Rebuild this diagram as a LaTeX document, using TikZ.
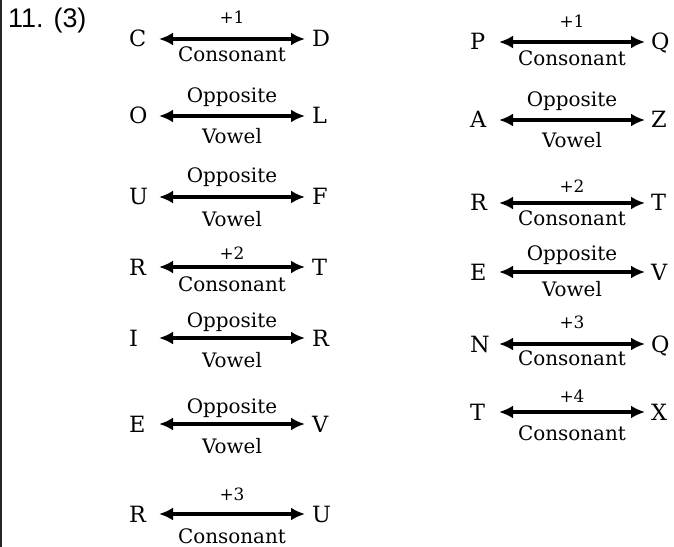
\documentclass[tikz,border=0pt]{standalone}
\usepackage{fontspec}
\setmainfont{DejaVu Serif}
\newfontfamily\titlefont{Liberation Sans}
\usetikzlibrary{arrows.meta}
\begin{document}
\begin{tikzpicture}[x=1bp,y=-1bp,
  letter/.style={inner sep=0pt, anchor=base west, font=\fontsize{22.5}{22.5}\selectfont},
  lbl/.style={inner sep=0pt, anchor=base, font=\fontsize{20}{20}\selectfont},
  num/.style={inner sep=0pt, anchor=base, font=\fontsize{17}{17}\selectfont},
  rel/.style={line width=3.2bp, {Latex[length=14bp,width=13bp]}-{Latex[length=14bp,width=13bp]}},
]
\useasboundingbox (0,0) rectangle (674,547);
\draw[line width=2.2bp, black!85] (1,0) -- (1,547);
\node[font=\titlefont\fontsize{27}{27}\selectfont, anchor=base west, inner sep=0pt] (title) at (8,27.5) {11. (3)};
% left column
\foreach \n/\y/\L/\R/\top/\ts/\tbl/\bot/\bbl in {
  L1/39/C/D/+1/num/24/Consonant/62,
  L2/116/O/L/Opposite/lbl/103/Vowel/144,
  L3/197/U/F/Opposite/lbl/183/Vowel/227,
  L4/267/R/T/+2/num/260/Consonant/291,
  L5/338/I/R/Opposite/lbl/327/Vowel/367,
  L6/424/E/V/Opposite/lbl/413/Vowel/453,
  L7/514/R/U/+3/num/500/Consonant/543}{
  \node[letter] (\n a) at (129,\y+8) {\L};
  \node[letter] (\n b) at (312,\y+8) {\R};
  \coordinate (\n s) at (159,\y);
  \coordinate (\n e) at (305,\y);
  \draw[rel] (\n s) -- (\n e);
  \node[\ts] (\n t) at (232,\tbl) {\top};
  \node[lbl] (\n u) at (232,\bbl) {\bot};
}
% right column
\foreach \n/\y/\L/\R/\top/\ts/\tbl/\bot/\bbl in {
  R1/42/P/Q/+1/num/28/Consonant/66,
  R2/120/A/Z/Opposite/lbl/107/Vowel/148,
  R3/203/R/T/+2/num/193/Consonant/226,
  R4/272/E/V/Opposite/lbl/261/Vowel/296,
  R5/344/N/Q/+3/num/328/Consonant/365,
  R6/412/T/X/+4/num/402/Consonant/440}{
  \node[letter] (\n a) at (470,\y+8) {\L};
  \node[letter] (\n b) at (651,\y+8) {\R};
  \coordinate (\n s) at (499,\y);
  \coordinate (\n e) at (645,\y);
  \draw[rel] (\n s) -- (\n e);
  \node[\ts] (\n t) at (572,\tbl) {\top};
  \node[lbl] (\n u) at (572,\bbl) {\bot};
}
\end{tikzpicture}
\end{document}
